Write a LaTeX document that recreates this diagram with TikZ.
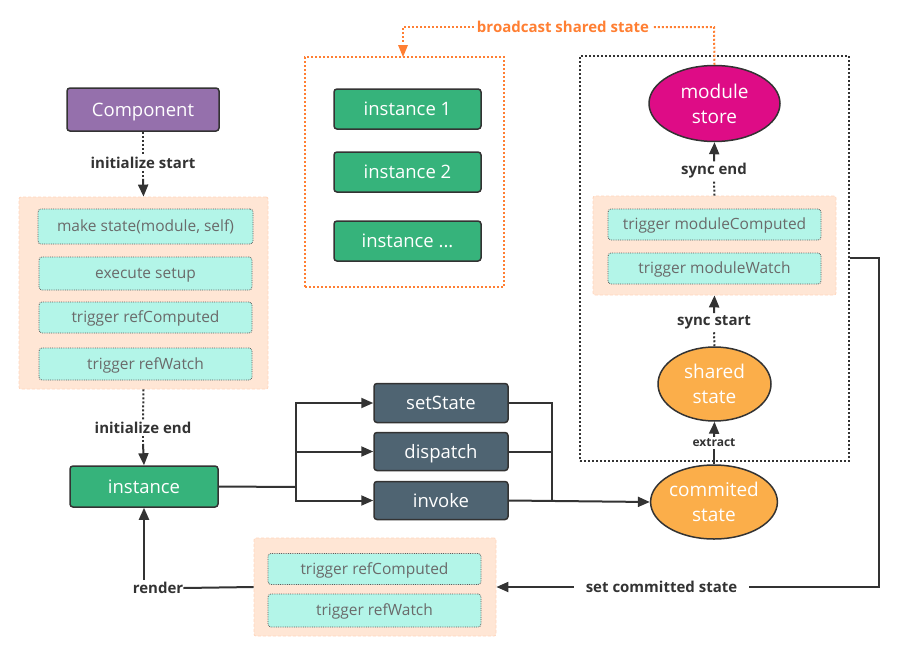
\documentclass[tikz,border=0pt]{standalone}
\usepackage{fontspec}
\setmainfont{Open Sans}
\usetikzlibrary{shapes.geometric,arrows.meta,calc}
\definecolor{dk}{HTML}{333333}
\definecolor{purp}{HTML}{9570AC}
\definecolor{grn}{HTML}{36B37B}
\definecolor{slate}{HTML}{4F6472}
\definecolor{peach}{HTML}{FFE6D5}
\definecolor{peachb}{HTML}{FFD5BC}
\definecolor{cyanf}{HTML}{B3F5E8}
\definecolor{orng}{HTML}{FBAE4A}
\definecolor{mag}{HTML}{DE0C86}
\definecolor{ora}{HTML}{FF7F33}
\definecolor{gtxt}{HTML}{6A6A6A}
\begin{document}
\begin{tikzpicture}[x=1pt,y=-1pt,
  tip/.style={-{Triangle[width=10pt,length=12pt]}},
  cline/.style={draw=dk,line width=2pt},
  dline/.style={draw=dk,line width=2pt,dotted},
  oline/.style={draw=ora,line width=2pt,dotted},
  mainbox/.style={draw=dk,line width=1.5pt,rounded corners=3pt,text=white,
    font=\fontsize{18.5}{20}\selectfont,inner sep=0pt,text height=16pt,text depth=3pt},
  peachgrp/.style={fill=peach,draw=peachb,densely dashed,line width=0.8pt,rounded corners=2pt},
  cybox/.style={fill=cyanf,draw=dk!80,densely dotted,line width=0.8pt,rounded corners=3pt,
    text=gtxt,font=\fontsize{15.5}{16}\selectfont,inner sep=0pt,text height=13pt,text depth=3pt},
  lbl/.style={text=dk,font=\bfseries\fontsize{15}{16}\selectfont,inner sep=2pt},
  ell/.style={ellipse,draw=dk,line width=1.5pt,text=white,align=center,
    font=\fontsize{19}{25}\selectfont,inner sep=0pt}
]
\useasboundingbox (0,0) rectangle (900,651);

% Component
\node[mainbox,fill=purp,minimum width=152pt,minimum height=43pt] (comp) at (143,109.5) {Component};
\node[lbl] (initS) at (143,163) {initialize start};

% left group
\node[peachgrp,minimum width=249pt,minimum height=192pt] (grpL) at (143.5,293) {};
\node[cybox,minimum width=215pt,minimum height=35pt] (c1) at (145.5,226.5) {make state(module, self)};
\node[cybox,minimum width=213pt,minimum height=33pt] (c2) at (145.5,273.5) {execute setup};
\node[cybox,minimum width=213pt,minimum height=31pt] (c3) at (145.5,317.5) {trigger refComputed};
\node[cybox,minimum width=213pt,minimum height=32pt] (c4) at (145.5,364) {trigger refWatch};

\node[lbl] (initE) at (143,428) {initialize end};
\node[mainbox,fill=grn,minimum width=148pt,minimum height=41pt] (inst) at (144,486.5) {instance};

% instances box
\node[draw=ora,dotted,line width=2pt,minimum width=199pt,minimum height=230pt] (insts) at (404.5,172) {};
\node[mainbox,fill=grn,minimum width=147pt,minimum height=40pt] (i1) at (407.5,109) {instance 1};
\node[mainbox,fill=grn,minimum width=147pt,minimum height=40pt] (i2) at (407.5,172) {instance 2};
\node[mainbox,fill=grn,minimum width=147pt,minimum height=40pt] (i3) at (407.5,241) {instance ...};

% actions
\node[mainbox,fill=slate,minimum width=134pt,minimum height=39pt] (ss) at (441,403) {setState};
\node[mainbox,fill=slate,minimum width=134pt,minimum height=38pt] (dp) at (441,451.5) {dispatch};
\node[mainbox,fill=slate,minimum width=134pt,minimum height=38pt] (iv) at (441,500.5) {invoke};

% right dotted box
\node[draw=dk,dotted,line width=2pt,minimum width=269pt,minimum height=405pt] (rbox) at (714.5,258.5) {};
\node[ell,fill=mag,minimum width=131pt,minimum height=76pt] (ms) at (714.5,103.5) {module\\store};
\node[lbl] (syncE) at (714,171) {sync end};
\node[peachgrp,minimum width=243pt,minimum height=99pt] (grpR) at (714.5,245.5) {};
\node[cybox,minimum width=213pt,minimum height=31pt] (m1) at (714.5,224.5) {trigger moduleComputed};
\node[cybox,minimum width=213pt,minimum height=31pt] (m2) at (714.5,268.5) {trigger moduleWatch};
\node[lbl] (syncS) at (714,322) {sync start};
\node[ell,fill=orng,minimum width=113pt,minimum height=74pt] (sh) at (714.5,384) {shared\\state};
\node[lbl,font=\bfseries\fontsize{12}{13}\selectfont] (extr) at (714,443) {extract};
\node[ell,fill=orng,minimum width=119pt,minimum height=74pt] (cs) at (714,502) {commited\\state};

% bottom group
\node[peachgrp,minimum width=242pt,minimum height=98pt] (grpB) at (375,587) {};
\node[cybox,minimum width=213pt,minimum height=31pt] (b1) at (374.5,569) {trigger refComputed};
\node[cybox,minimum width=213pt,minimum height=33pt] (b2) at (374.5,610.5) {trigger refWatch};
\node[lbl,inner xsep=12pt] (setc) at (661.5,587) {set committed state};
\node[lbl,inner xsep=0pt] (rend) at (158,588) {render};

% broadcast
\node[lbl,text=ora,inner xsep=3pt] (bc) at (563,27) {broadcast shared state};

% connectors
\draw[dline] (comp.south) -- (initS.north);
\draw[dline] (initS.south) -- ++(0,10);
\draw[cline,tip] ($(initS.south)+(0,8)$) -- (grpL.north);
\draw[dline] (grpL.south) -- (initE.north);
\draw[dline] (initE.south) -- ++(0,10);
\draw[cline,tip] ($(initE.south)+(0,8)$) -- (inst.north);

\draw[cline] (inst.east) -- (296,487);
\draw[cline,tip] (296,487) |- (ss.west);
\draw[cline,tip] (296,487) |- (dp.west);
\draw[cline,tip] (296,487) |- (iv.west);
\draw[cline] (ss.east) -| (552,502);
\draw[cline] (dp.east) -- (552,451.5);
\draw[cline,tip] (iv.east) -- (cs.west);

\draw[cline] (cs.north) -- (extr.south);
\draw[cline,tip] (extr.north) -- (sh.south);
\draw[dline] (sh.north) -- (syncS.south);
\draw[cline,tip] (syncS.north) -- (grpR.south);
\draw[dline] (grpR.north) -- (syncE.south);
\draw[cline,tip] (syncE.north) -- (ms.south);

\draw[oline] (ms.north) -- (714,27) -- (bc.east);
\draw[oline] (bc.west) -- (403,27) -- (403,44);
\draw[draw=ora,fill=ora,line width=0pt,{Triangle[width=10pt,length=12pt]}-] (403,57) -- (403,45);

\draw[cline] (rbox.east |- 0,258) -- (879,258) -- (879,587) -- (setc.east);
\draw[cline,tip] (setc.west) -- (grpB.east |- setc.west);
\draw[cline] (grpB.west) -- (rend.east);
\draw[cline,tip] (inst.south |- rend.north) -- (inst.south);
\end{tikzpicture}
\end{document}
